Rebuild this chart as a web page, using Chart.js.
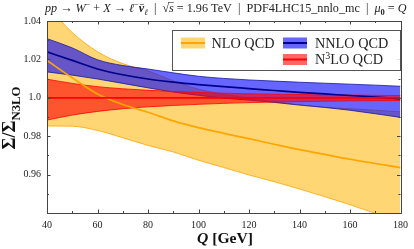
<!DOCTYPE html>
<html><head><meta charset="utf-8">
<script src="https://cdn.jsdelivr.net/npm/chart.js@4.4.1/dist/chart.umd.min.js"></script>
<style>html,body{margin:0;padding:0;background:#fff;}#wrap{width:414px;height:249px;position:relative}</style>
</head><body><div id="wrap"><canvas id="c" width="414" height="249"></canvas></div>
<script>
// ---- data ----
const Q        = [40, 50, 60, 70, 80, 90, 100, 110, 120, 130, 140, 150, 160, 170, 180];
const nloUp    = [1.048, 1.034, 1.024, 1.0178, 1.014, 1.0088, 1.0045, 1.0018, 0.9998, 0.998, 0.9963, 0.995, 0.9943, 0.9935, 0.9927];
const nloCen   = [1.0194, 1.0104, 1.002, 0.9965, 0.9925, 0.988, 0.9845, 0.9815, 0.9787, 0.9758, 0.973, 0.9705, 0.968, 0.9658, 0.9636];
const nloLo    = [0.9853, 0.9852, 0.983, 0.9792, 0.9752, 0.9718, 0.9675, 0.9637, 0.9598, 0.9563, 0.9525, 0.9485, 0.9443, 0.9398, 0.935];
const nnloUp   = [1.0308, 1.026, 1.0198, 1.0168, 1.015, 1.013, 1.0112, 1.0101, 1.0093, 1.0087, 1.0081, 1.0076, 1.0071, 1.0066, 1.006];
const nnloCen  = [1.0239, 1.0195, 1.015, 1.012, 1.0098, 1.0082, 1.0069, 1.0058, 1.0048, 1.0038, 1.0028, 1.002, 1.0012, 1.0004, 0.9996];
const nnloLo   = [1.0135, 1.0118, 1.0098, 1.0075, 1.0052, 1.003, 1.0013, 0.9998, 0.9988, 0.9976, 0.9962, 0.995, 0.9935, 0.9917, 0.9898];
const n3loUp   = [1.0097, 1.0075, 1.0058, 1.0047, 1.0039, 1.0033, 1.0028, 1.0024, 1.0021, 1.0019, 1.0017, 1.0015, 1.0014, 1.0013, 1.0012];
const n3loCen  = [1, 1, 1, 1, 1, 1, 1, 1, 1, 1, 1, 1, 1, 1, 1];
const n3loLo   = [0.9884, 0.991, 0.9929, 0.9943, 0.9953, 0.996, 0.9966, 0.9971, 0.9975, 0.9978, 0.998, 0.9982, 0.9984, 0.9985, 0.9986];
const xTickLabels = [40, 60, 80, 100, 120, 140, 160, 180];
const yTickLabels = ['0.96', '0.98', '1.0', '1.02', '1.04'];
const legendLabels = ['NLO QCD', 'NNLO QCD', 'N³LO QCD'];

const SERIF = "'Liberation Serif','DejaVu Serif',serif";
const pts = ys => Q.map((q, i) => ({x: q, y: ys[i]}));

const COL = {
  nloFill: 'rgba(255,180,0,0.55)', nloLine: '#FFA500',
  nnloFill: 'rgba(0,0,255,0.6)', nnloLine: '#00008B', nnloEdge: '#1515a0',
  n3loFill: 'rgba(255,0,0,0.6)', n3loLine: '#FF0000'
};

function edge(data, color, order, fill, bg) {
  return {data: pts(data), borderColor: color, borderWidth: 0.8, pointRadius: 0,
    cubicInterpolationMode: 'monotone', fill: fill || false, backgroundColor: bg || 'transparent', order: order};
}
function central(data, color, order) {
  return {data: pts(data), borderColor: color, borderWidth: 1.7, pointRadius: 0,
    cubicInterpolationMode: 'monotone', fill: false, order: order};
}

// rich text helper
function fontFor(flags, size) {
  const it = flags.includes('i') ? 'italic ' : '';
  const bd = flags.includes('b') ? 'bold ' : '';
  const s = (flags.includes('sub') || flags.includes('sup')) ? size * 0.7 : size;
  return it + bd + s.toFixed(2) + 'px ' + SERIF;
}
function measureRich(ctx, segs, size) {
  let w = 0;
  segs.forEach(([t, f]) => { ctx.font = fontFor(f, size); w += ctx.measureText(t).width; });
  return w;
}
function drawRich(ctx, segs, x, y, size, color) {
  ctx.fillStyle = color; ctx.strokeStyle = color; ctx.textBaseline = 'alphabetic'; ctx.textAlign = 'left';
  let cx = x;
  segs.forEach(([t, f]) => {
    ctx.font = fontFor(f, size);
    let dy = 0;
    if (f.includes('sub')) dy = size * 0.25;
    if (f.includes('sup')) dy = -size * 0.38;
    ctx.fillText(t, cx, y + dy);
    const w = ctx.measureText(t).width;
    if (f.includes('over')) {
      ctx.lineWidth = 0.6; ctx.beginPath();
      ctx.moveTo(cx - 1, y - size * 0.78); ctx.lineTo(cx + w, y - size * 0.78); ctx.stroke();
    }
    if (f.includes('bar')) {
      ctx.lineWidth = 0.6; ctx.beginPath();
      ctx.moveTo(cx + w * 0.2, y - size * 0.62); ctx.lineTo(cx + w * 0.95, y - size * 0.62); ctx.stroke();
    }
    cx += w;
  });
}

const decorPlugin = {
  id: 'decor',
  afterDraw(chart) {
    const ctx = chart.ctx, a = chart.chartArea, xs = chart.scales.x, ys = chart.scales.y;
    ctx.save();
    // frame
    ctx.strokeStyle = '#444'; ctx.lineWidth = 1;
    ctx.strokeRect(Math.round(a.left) + 0.5, Math.round(a.top) + 0.5, Math.round(a.right - a.left), Math.round(a.bottom - a.top));
    // inward ticks
    ctx.beginPath();
    xs.ticks.forEach(t => {
      const v = Math.round(t.value);
      const px = Math.round(xs.getPixelForValue(v)) + 0.5;
      const L = (v % 20 === 0) ? 3.5 : 2;
      ctx.moveTo(px, a.bottom); ctx.lineTo(px, a.bottom - L);
      ctx.moveTo(px, a.top); ctx.lineTo(px, a.top + L);
    });
    ys.ticks.forEach(t => {
      const v = Math.round(t.value * 100);
      const py = Math.round(ys.getPixelForValue(v / 100)) + 0.5;
      const L = (v % 2 === 0) ? 3.5 : 2;
      ctx.moveTo(a.left, py); ctx.lineTo(a.left + L, py);
      ctx.moveTo(a.right, py); ctx.lineTo(a.right - L, py);
    });
    ctx.stroke();

    // title
    const title = [['pp','i'],[' → ',''],['W','i'],['−','sup'],[' + ',''],['X','i'],[' → ',''],['ℓ','i'],['−','sup'],['ν','i bar'],['ℓ','i sub'],
      ['  |  ',''],['√',''],['s','i over'],[' = 1.96 TeV  |  PDF4LHC15_nnlo_mc  |  ',''],['μ','i'],['0','sub'],[' = ',''],['Q','i']];
    const ts = 10 * 362 / measureRich(ctx, title, 10);
    drawRich(ctx, title, 45, 12, ts, '#222');

    // x label
    const xl = [['Q','b i'],[' [GeV]','b']];
    let xsz = 13 * 56 / measureRich(ctx, xl, 13);
    drawRich(ctx, xl, 197, 243, xsz, '#111');

    // y label rotated
    const yl = [['Σ/Σ','b'],['N3LO','b sub']];
    let ysz = 14 * 63 / measureRich(ctx, yl, 14);
    ctx.save(); ctx.translate(15, 118 + 31.5); ctx.rotate(-Math.PI / 2);
    drawRich(ctx, yl, 0, 0, ysz, '#111');
    ctx.restore();

    // legend
    ctx.fillStyle = 'rgba(255,255,255,0.85)';
    ctx.fillRect(172.5, 30.5, 228, 40);
    ctx.strokeStyle = '#555'; ctx.lineWidth = 1;
    ctx.strokeRect(172.5, 30.5, 228, 40);
    const lsz = 14 * 63 / measureRich(ctx, [[legendLabels[0], '']], 14);
    const entries = [
      {x: 181, y: 43, fill: COL.nloFill, line: COL.nloLine, segs: [[legendLabels[0], '']], tx: 211.5, ty: 47.5},
      {x: 283, y: 43, fill: COL.nnloFill, line: COL.nnloLine, segs: [[legendLabels[1], '']], tx: 315, ty: 47.5},
      {x: 283, y: 59.5, fill: COL.n3loFill, line: COL.n3loLine, segs: [['N',''],['3','sup'],['LO QCD','']], tx: 315, ty: 64}
    ];
    entries.forEach(e => {
      ctx.fillStyle = e.fill; ctx.fillRect(e.x, e.y - 5.5, 24, 11);
      ctx.strokeStyle = e.line; ctx.lineWidth = 2;
      ctx.beginPath(); ctx.moveTo(e.x, e.y); ctx.lineTo(e.x + 24, e.y); ctx.stroke();
      drawRich(ctx, e.segs, e.tx, e.ty, lsz, '#222');
    });
    ctx.restore();
  }
};

new Chart(document.getElementById('c'), {
  type: 'line',
  data: {
    datasets: [
      edge(nloLo, COL.nloLine, 9),
      edge(nloUp, COL.nloLine, 9, '-1', COL.nloFill),
      edge(nnloLo, COL.nnloEdge, 6),
      edge(nnloUp, COL.nnloEdge, 6, '-1', COL.nnloFill),
      edge(n3loLo, COL.n3loLine, 3),
      edge(n3loUp, COL.n3loLine, 3, '-1', COL.n3loFill),
      central(nloCen, COL.nloLine, 2),
      central(nnloCen, COL.nnloLine, 1),
      central(n3loCen, COL.n3loLine, 0)
    ]
  },
  options: {
    responsive: false, animation: false, devicePixelRatio: 1,
    layout: {padding: {top: 21, right: 10, left: 0, bottom: 0}},
    plugins: {legend: {display: false}, title: {display: false}, tooltip: {enabled: false}},
    scales: {
      x: {type: 'linear', min: 40, max: 180,
        grid: {display: false, drawTicks: false}, border: {display: false},
        ticks: {stepSize: 10, autoSkip: false, maxRotation: 0, padding: 6, color: '#222',
          font: {family: SERIF, size: 10},
          callback: v => xTickLabels.includes(Math.round(v)) ? String(Math.round(v)) : ''},
        afterFit: s => { s.height = 36; }
      },
      y: {type: 'linear', min: 0.94, max: 1.04,
        grid: {display: false, drawTicks: false}, border: {display: false},
        ticks: {stepSize: 0.01, autoSkip: false, padding: 6, color: '#222',
          font: {family: SERIF, size: 10},
          callback: v => { const s = Math.abs(v - 1) < 1e-6 ? '1.0' : v.toFixed(2); return yTickLabels.includes(s) ? s : ''; }},
        afterFit: s => { s.width = 47; }
      }
    }
  },
  plugins: [decorPlugin]
});
</script>
</body></html>
